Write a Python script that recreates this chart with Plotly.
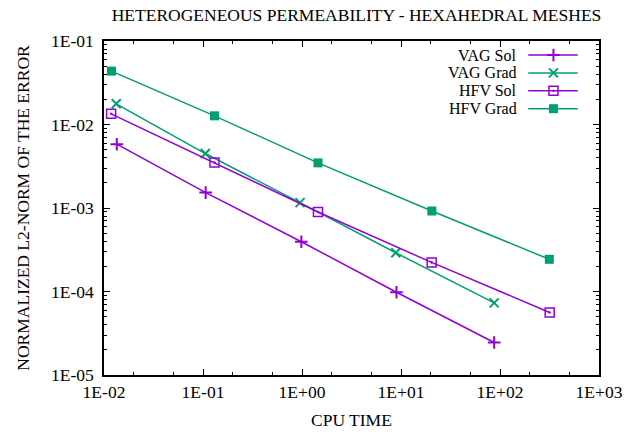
import plotly.graph_objects as go

# ---- data ----
series_names = ["VAG Sol", "VAG Grad", "HFV Sol", "HFV Grad"]

vag_sol_time = [0.01346, 0.1064, 0.985, 9.0, 87.3]
vag_sol_err = [5.81e-3, 1.53e-3, 3.94e-4, 9.8e-5, 2.45e-5]

vag_grad_time = [0.0133, 0.1055, 0.955, 8.85, 87.3]
vag_grad_err = [1.77e-2, 4.49e-3, 1.16e-3, 2.91e-4, 7.31e-5]

hfv_sol_time = [0.0118, 0.1306, 1.45, 20.4, 317.6]
hfv_sol_err = [1.343e-2, 3.5e-3, 8.95e-4, 2.23e-4, 5.61e-5]

hfv_grad_time = [0.0119, 0.1306, 1.45, 20.5, 315.0]
hfv_grad_err = [4.36e-2, 1.27e-2, 3.47e-3, 9.2e-4, 2.43e-4]

x_tick_vals = [1e-2, 1e-1, 1e0, 1e1, 1e2, 1e3]
x_tick_text = ["1E-02", "1E-01", "1E+00", "1E+01", "1E+02", "1E+03"]
y_tick_vals = [1e-5, 1e-4, 1e-3, 1e-2, 1e-1]
y_tick_text = ["1E-05", "1E-04", "1E-03", "1E-02", "1E-01"]

title_text = "HETEROGENEOUS PERMEABILITY - HEXAHEDRAL MESHES"
x_title = "CPU TIME"
y_title = "NORMALIZED L2-NORM OF THE ERROR"

# ---- styles ----
PURPLE = "#9400d3"
GREEN = "#009e73"
FONT = "Liberation Serif"
FS = 17.5
LEG_FS = 16

styles = [
    dict(color=PURPLE, symbol="cross-thin-open", size=9, mlw=2),
    dict(color=GREEN, symbol="x-thin-open", size=9, mlw=2),
    dict(color=PURPLE, symbol="square-open-dot", size=9, mlw=1.5),
    dict(color=GREEN, symbol="square", size=9, mlw=0),
]
data = [
    (vag_sol_time, vag_sol_err),
    (vag_grad_time, vag_grad_err),
    (hfv_sol_time, hfv_sol_err),
    (hfv_grad_time, hfv_grad_err),
]

fig = go.Figure()
for name, (xs, ys), st in zip(series_names, data, styles):
    fig.add_trace(go.Scatter(
        x=xs, y=ys, name=name, mode="lines+markers",
        line=dict(color=st["color"], width=1.5),
        marker=dict(symbol=st["symbol"], size=st["size"], color=st["color"],
                    line=dict(color=st["color"], width=st["mlw"])),
        showlegend=False,
    ))

# ---- gnuplot-style legend (text left of sample), drawn on an overlay axis ----
leg_rows_px = [55, 72.9, 90.8, 108.7]
plot_top, plot_bottom = 41, 375
plot_h = plot_bottom - plot_top
leg_x0, leg_x1, leg_xm, leg_text_x = 0.857, 0.957, 0.908, 0.836
annotations = []
for name, st, py in zip(series_names, styles, leg_rows_px):
    yf = (plot_bottom - py) / plot_h
    fig.add_trace(go.Scatter(
        x=[leg_x0, leg_x1], y=[yf, yf], mode="lines", xaxis="x2", yaxis="y2",
        line=dict(color=st["color"], width=1.5), showlegend=False, hoverinfo="skip"))
    fig.add_trace(go.Scatter(
        x=[leg_xm], y=[yf], mode="markers", xaxis="x2", yaxis="y2",
        marker=dict(symbol=st["symbol"], size=st["size"], color=st["color"],
                    line=dict(color=st["color"], width=st["mlw"])),
        showlegend=False, hoverinfo="skip"))
    annotations.append(dict(
        x=leg_text_x, y=yf, xref="paper", yref="paper", text=name,
        showarrow=False, xanchor="right", yanchor="middle", borderpad=0,
        font=dict(family=FONT, size=LEG_FS, color="black")))

# x-axis title placed as in the reference
annotations.append(dict(
    x=0.5, y=(plot_bottom - 420) / plot_h, xref="paper", yref="paper", text=x_title,
    showarrow=False, xanchor="center", yanchor="middle",
    font=dict(family=FONT, size=FS, color="black")))

axis_common = dict(
    type="log", showgrid=False, zeroline=False,
    showline=True, linecolor="black", linewidth=1.5, mirror="allticks",
    ticks="inside", ticklen=6, tickwidth=1, tickcolor="black",
    tickfont=dict(family=FONT, size=FS, color="black"),
)

fig.update_layout(
    width=635, height=435,
    margin=dict(l=104, r=26, t=41, b=60),
    paper_bgcolor="white", plot_bgcolor="white",
    font=dict(family=FONT, size=FS, color="black"),
    title=dict(text=title_text, x=356.5 / 635, xanchor="center",
               y=1 - 15 / 435, yanchor="middle", yref="container",
               font=dict(family=FONT, size=FS, color="black")),
    xaxis=dict(**axis_common, range=[-2, 3], tickvals=x_tick_vals, ticktext=x_tick_text,
               minor=dict(ticks="inside", ticklen=3, dtick="D2", tickcolor="black", showgrid=False)),
    yaxis=dict(**axis_common, range=[-5, -1], tickvals=y_tick_vals, ticktext=y_tick_text,
               ticklabelstandoff=5,
               minor=dict(ticks="inside", ticklen=3, dtick="D1", tickcolor="black", showgrid=False),
               title=dict(text=y_title, standoff=17,
                          font=dict(family=FONT, size=FS, color="black"))),
    xaxis2=dict(overlaying="x", range=[0, 1], visible=False, fixedrange=True),
    yaxis2=dict(overlaying="y", range=[0, 1], visible=False, fixedrange=True),
    annotations=annotations,
)

fig.write_html("out.html", config={"displayModeBar": False},
               post_script="document.body.style.margin='0';")
